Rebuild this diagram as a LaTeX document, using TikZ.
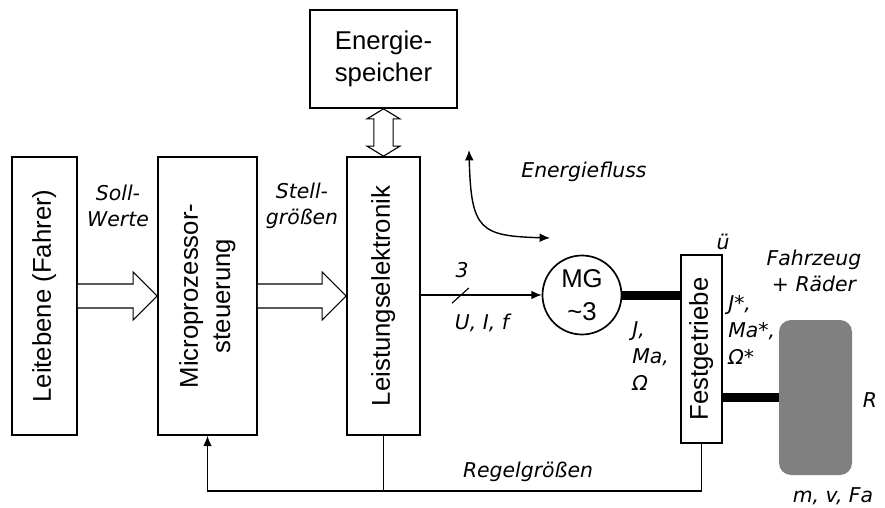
\documentclass[tikz,border=0pt]{standalone}
\usepackage{fontspec}
\setmainfont{Liberation Sans}
\newfontfamily\labelfont{DejaVu Sans}
\usepackage{graphicx}
\usetikzlibrary{arrows.meta, positioning, calc}
\definecolor{wheelgray}{RGB}{128, 128, 128}
\newcommand{\blockfont}{\fontsize{18.3}{23}\selectfont}
\newcommand{\vtext}[1]{\rotatebox{90}{\begin{tabular}{@{}c@{}}#1\end{tabular}}}

\begin{document}
\begin{tikzpicture}[
    block/.style={draw, line width=1.2pt, inner sep=0pt, align=center, font=\blockfont},
    fatarrow/.style={draw, line width=0.8pt, fill=white, line join=miter},
    arrow/.style={-{Latex[length=2.6mm, width=2.2mm]}, line width=1pt},
    shaft/.style={line width=6.4pt},
    note/.style={inner sep=0pt, align=center, font=\labelfont\itshape\fontsize{14.5}{19}\selectfont},
]
\useasboundingbox (0, 0) rectangle (22.125, -12.7);

% Blocks
\node[block, minimum width=1.625cm, minimum height=6.95cm] (leit) at (1.1125, -7.4) {\vtext{Leitebene (Fahrer)}};
\node[block, minimum width=2.475cm, minimum height=6.95cm] (micro) at (5.1875, -7.4) {\vtext{Microprozessor-\\steuerung}};
\node[block, minimum width=1.825cm, minimum height=6.95cm] (leist) at (9.5875, -7.4) {\vtext{Leistungselektronik}};
\node[block, minimum width=3.675cm, minimum height=2.45cm] (speicher) at (9.5875, -1.475) {Energie-\\speicher};
\node[block, circle, minimum size=1.975cm] (mg) at (14.55, -7.375) {MG\\\textasciitilde3};
\node[block, minimum width=1.025cm, minimum height=4.7cm] (fest) at (17.5375, -8.725) {\vtext{Festgetriebe}};
\node[fill=wheelgray, rounded corners=0.3cm, minimum width=1.825cm, minimum height=3.875cm] (wheel) at (20.3875, -9.9375) {};

% Fat arrows
\draw[fatarrow] let \p1=(leit.east), \p2=(micro.west) in
    (\x1,\y1+0.3cm) -- (\x2-0.6cm,\y1+0.3cm) -- (\x2-0.6cm,\y1+0.6cm) -- (\x2,\y1)
    -- (\x2-0.6cm,\y1-0.6cm) -- (\x2-0.6cm,\y1-0.3cm) -- (\x1,\y1-0.3cm);
\draw[fatarrow] let \p1=(micro.east), \p2=(leist.west) in
    (\x1,\y1+0.3cm) -- (\x2-0.6cm,\y1+0.3cm) -- (\x2-0.6cm,\y1+0.6cm) -- (\x2,\y1)
    -- (\x2-0.6cm,\y1-0.6cm) -- (\x2-0.6cm,\y1-0.3cm) -- (\x1,\y1-0.3cm);
\draw[fatarrow] let \p1=(speicher.south), \p2=(leist.north) in
    (\x1,\y1) -- (\x1+0.41cm,\y1-0.25cm) -- (\x1+0.24cm,\y1-0.25cm) -- (\x1+0.24cm,\y2+0.25cm)
    -- (\x1+0.41cm,\y2+0.25cm) -- (\x1,\y2) -- (\x1-0.41cm,\y2+0.25cm) -- (\x1-0.24cm,\y2+0.25cm)
    -- (\x1-0.24cm,\y1-0.25cm) -- (\x1-0.41cm,\y1-0.25cm) -- cycle;

% Power line to motor
\draw[arrow] (leist.east |- mg) -- (mg);
\coordinate (slash) at (11.51, -7.39);
\draw[line width=0.8pt] ($(slash)+(-0.21,-0.19)$) -- ($(slash)+(0.21,0.19)$);

% Shafts
\draw[shaft] (mg) -- (fest.west |- mg);
\draw[shaft] (fest.east |- wheel) -- (wheel.west);

% Energy flow
\coordinate (flowtop) at (11.725, -3.75);
\coordinate (flowend) at (13.75, -5.95);
\draw[{Latex[length=2.6mm, width=2.2mm]}-{Latex[length=2.6mm, width=2.2mm]}, line width=1pt]
    (flowtop) .. controls (11.775, -5.75) and (12.0, -5.9) .. (flowend);

% Feedback
\coordinate (fbline) at (17.5375, -12.275);
\draw[arrow] (fest.south) -- (fbline) -| (micro.south);
\draw[line width=1pt] (leist.south) -- (leist.south |- fbline);

% Labels
\node[note] (soll) at (2.95, -5.15) {Soll-\\Werte};
\node[note] (stell) at (7.55, -5.15) {Stell-\\größen};
\node[note] (flow) at (14.6, -4.3) {Energiefluss};
\node[note] (three) at (11.55, -6.75) {3};
\node[note] (uif) at (12.05, -8.075) {U, I, f};
\node[note, align=left, anchor=west] (mgout) at (15.8, -8.9) {J,\\Ma,\\Ω};
\node[note] (ratio) at (18.075, -6.05) {ü};
\node[note, align=left, anchor=west] (festout) at (18.2, -8.25) {J*,\\Ma*,\\Ω*};
\node[note] (vehicle) at (20.35, -6.775) {Fahrzeug\\+ Räder};
\node[note] (radius) at (21.75, -10.0) {R};
\node[note] (mvf) at (20.825, -12.4) {m, v, Fa};
\node[note] (regel) at (13.2, -11.8) {Regelgrößen};
\end{tikzpicture}
\end{document}
